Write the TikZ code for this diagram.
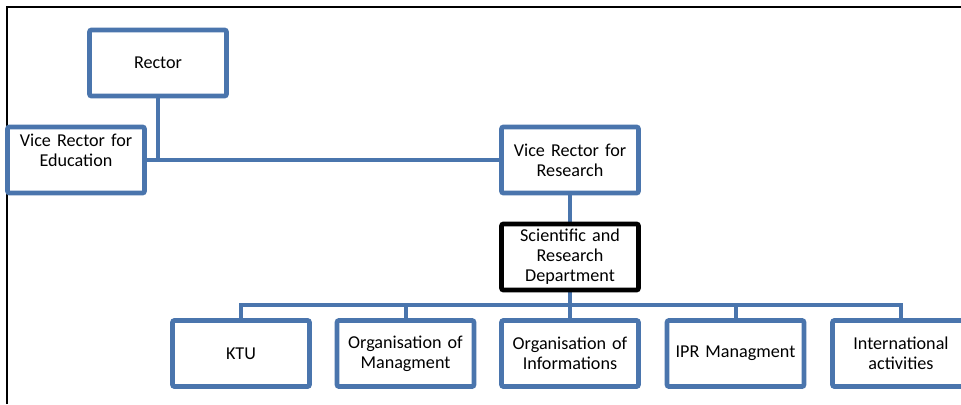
\documentclass[tikz,border=0pt]{standalone}
\usepackage{fontspec}
\setmainfont{Carlito}
\usepackage{tikz}
\usetikzlibrary{positioning, calc, backgrounds}
\definecolor{orgblue}{RGB}{74,117,173}

\begin{document}
\begin{tikzpicture}[x=0.75pt,y=0.75pt,
  unit/.style={draw=orgblue, line width=3.6pt, rounded corners=1.5pt, fill=white,
    minimum width=101pt, minimum height=49.5pt, text width=96pt, align=center,
    font=\fontsize{13.6}{15}\selectfont},
  dept/.style={unit, draw=black},
  link/.style={draw=orgblue, line width=3pt}]

% Frame
\useasboundingbox (0,0) rectangle (961,404);
\draw[line width=1.3pt] (7,0) -- (7,397) -- (961,397);

% Top of the chart
\node[unit] (rector) at (158,341) {Rector};
\node[unit] (vre) at (76,244) {Vice Rector for\\Education\\\mbox{}};
\node[unit] (vrr) at (570,244) {Vice Rector for\\Research};
\node[dept] (srd) at (570,147) {Scientific and\\Research\\Department};

% Units under the department
\foreach \name/\x/\txt in {ktu/241/{KTU}, orgm/405.5/{Organisation of\\Managment},
    orgi/570/{Organisation of\\Informations}, ipr/735.5/{IPR Managment},
    intl/901/{International\\activities}} {
  \node[unit] (\name) at (\x,50.5) {\txt};
}

% Connectors
\coordinate (bus) at (0,99);
\begin{scope}[on background layer]
  \draw[link] (rector.south) -- (rector.south |- vre.east);
  \draw[link] (vre.east) -- (vrr.west);
  \draw[link] (vrr.south) -- (srd.north);
  \draw[link] (srd.south) -- (srd.south |- bus);
  \draw[link] (ktu.north) |- (bus -| intl.north) -- (intl.north);
  \foreach \name in {orgm, orgi, ipr}
    \draw[link] (\name.north) -- (\name.north |- bus);
\end{scope}

\end{tikzpicture}
\end{document}
